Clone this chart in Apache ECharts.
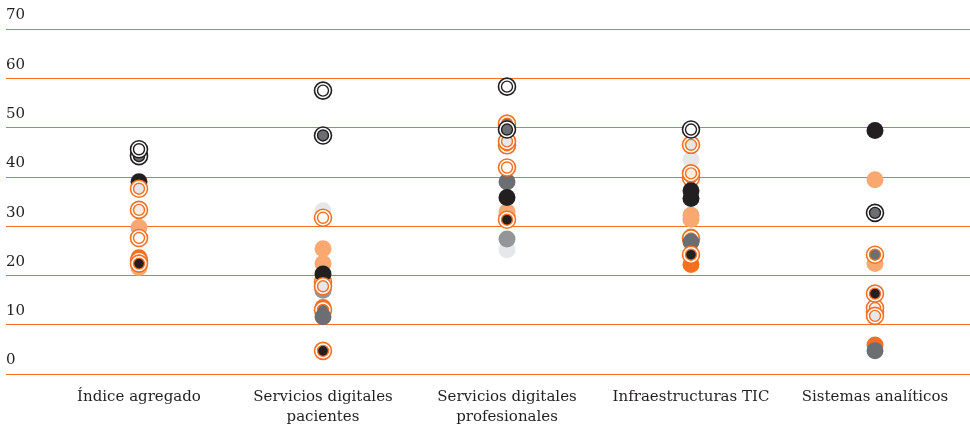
<!DOCTYPE html>
<html>
<head>
<meta charset="utf-8">
<script src="https://cdn.jsdelivr.net/npm/echarts@6/dist/echarts.min.js"></script>
<style>
  html, body { margin: 0; padding: 0; background: #fff; }
  #chart { width: 970px; height: 431px; }
</style>
</head>
<body>
<div id="chart"></div>
<script>
// categories on the x axis
const categories = [
  'Índice agregado',
  'Servicios digitales\npacientes',
  'Servicios digitales\nprofesionales',
  'Infraestructuras TIC',
  'Sistemas analíticos'
];
const yTicks = [0, 10, 20, 30, 40, 50, 60, 70];

// filled dots, one value per category (null = not shown)
const blackDots      = [39.0, 20.3, 35.8, 37.2, 49.4];
const blackDots2     = [null, null, null, 35.6, null];
const orangeDots     = [23.6, 13.5, 32.2, 22.2, 5.9];
const peachDots      = [29.7, 25.4, 32.9, 32.2, 39.4];
const peachDots2     = [21.6, 22.4, null, 31.4, 22.4];
const greyDots       = [null, 11.6, 39.0, 26.8, 4.7];
const midGreyDots    = [null, 17.0, 27.4, 27.8, 24.2];
const lightGreyDots  = [null, 33.1, 25.2, 43.5, null];

// double-ring markers
const blackRingWhite = [45.6, 57.5, 58.3, 49.6, null];
const blackRingGrey  = [44.2, 48.4, 49.6, null, 32.7];
const orangeRingWhite= [27.6, 31.7, 41.9, 39.8, 12.6];
const orangeRingLight= [37.6, 17.8, 47.2, 46.5, 11.8];
const orangeRingPeach= [33.3, 18.7, 46.4, 40.7, 13.4];
const orangeRingBlack= [22.4, 4.7, 31.3, 24.2, 16.3];
const orangeRingGrey = [23.0, 13.0, 50.8, 27.5, 24.2];

const C = {
  black: '#231f20',
  orange: '#f37021',
  peach: '#f9a870',
  grey: '#6d6e71',
  midGrey: '#939598',
  lightGrey: '#e6e7e8',
  cream: '#fdeee2',
  white: '#ffffff'
};

const SIZE = 17;

function toData(arr) {
  return arr.map((v, i) => (v == null ? null : [i, v]));
}

function dots(name, arr, color) {
  return {
    name: name,
    type: 'scatter',
    xAxisIndex: 1,
    yAxisIndex: 1,
    symbol: 'circle',
    symbolSize: SIZE,
    itemStyle: { color: color, opacity: 1 },
    data: toData(arr)
  };
}

// a ring marker is drawn as an outer ring plus a smaller inner ring
function rings(name, arr, ringColor, fill) {
  return [
    {
      name: name,
      type: 'scatter',
      xAxisIndex: 1,
      yAxisIndex: 1,
      symbolSize: SIZE,
      itemStyle: { color: C.white, borderColor: ringColor, borderWidth: 1.6, opacity: 1 },
      data: toData(arr)
    },
    {
      name: name,
      type: 'scatter',
      xAxisIndex: 1,
      yAxisIndex: 1,
      symbolSize: 11,
      itemStyle: { color: fill, borderColor: ringColor, borderWidth: 1.4, opacity: 1 },
      data: toData(arr)
    }
  ];
}

const chart = echarts.init(document.getElementById('chart'));

const serif = '"DejaVu Serif", "Liberation Serif", serif';

const option = {
  animation: false,
  backgroundColor: '#fff',
  grid: [
    { left: 6, right: 0, top: 29, bottom: 57 },
    { left: 47, right: 3, top: 29, bottom: 57 }
  ],
  xAxis: [
    { gridIndex: 0, type: 'value', show: false, min: 0, max: 1 },
    {
      gridIndex: 1,
      type: 'category',
      data: categories,
      boundaryGap: true,
      axisLine: { show: false },
      axisTick: { show: false },
      splitLine: { show: false },
      axisLabel: {
        color: C.black,
        fontFamily: serif,
        fontSize: 15,
        lineHeight: 20,
        margin: 13,
        interval: 0
      }
    }
  ],
  yAxis: [
    {
      gridIndex: 0,
      type: 'value',
      min: yTicks[0],
      max: yTicks[yTicks.length - 1],
      interval: 10,
      axisLine: { show: false },
      axisTick: { show: false },
      splitLine: { lineStyle: { color: C.orange, width: 1 } },
      axisLabel: {
        inside: true,
        margin: 0,
        align: 'left',
        verticalAlign: 'bottom',
        padding: [0, 0, 6, 0],
        color: C.black,
        fontFamily: serif,
        fontSize: 15
      }
    },
    { gridIndex: 1, type: 'value', min: 0, max: 70, show: false }
  ],
  series: [
    dots('lightGrey', lightGreyDots, C.lightGrey),
    dots('midGrey', midGreyDots, C.midGrey),
    dots('orange', orangeDots, C.orange),
    dots('peach2', peachDots2, C.peach),
    ...rings('orangeRingGrey', orangeRingGrey, C.orange, C.grey),
    dots('grey', greyDots, C.grey),
    dots('peach', peachDots, C.peach),
    ...rings('orangeRingWhite', orangeRingWhite, C.orange, C.white),
    ...rings('orangeRingPeach', orangeRingPeach, C.orange, C.cream),
    dots('black2', blackDots2, C.black),
    dots('black', blackDots, C.black),
    ...rings('orangeRingBlack', orangeRingBlack, C.orange, C.black),
    ...rings('orangeRingLight', orangeRingLight, C.orange, C.lightGrey),
    ...rings('blackRingGrey', blackRingGrey, C.black, C.grey),
    ...rings('blackRingWhite', blackRingWhite, C.black, C.white)
  ]
};

chart.setOption(option);
</script>
</body>
</html>
